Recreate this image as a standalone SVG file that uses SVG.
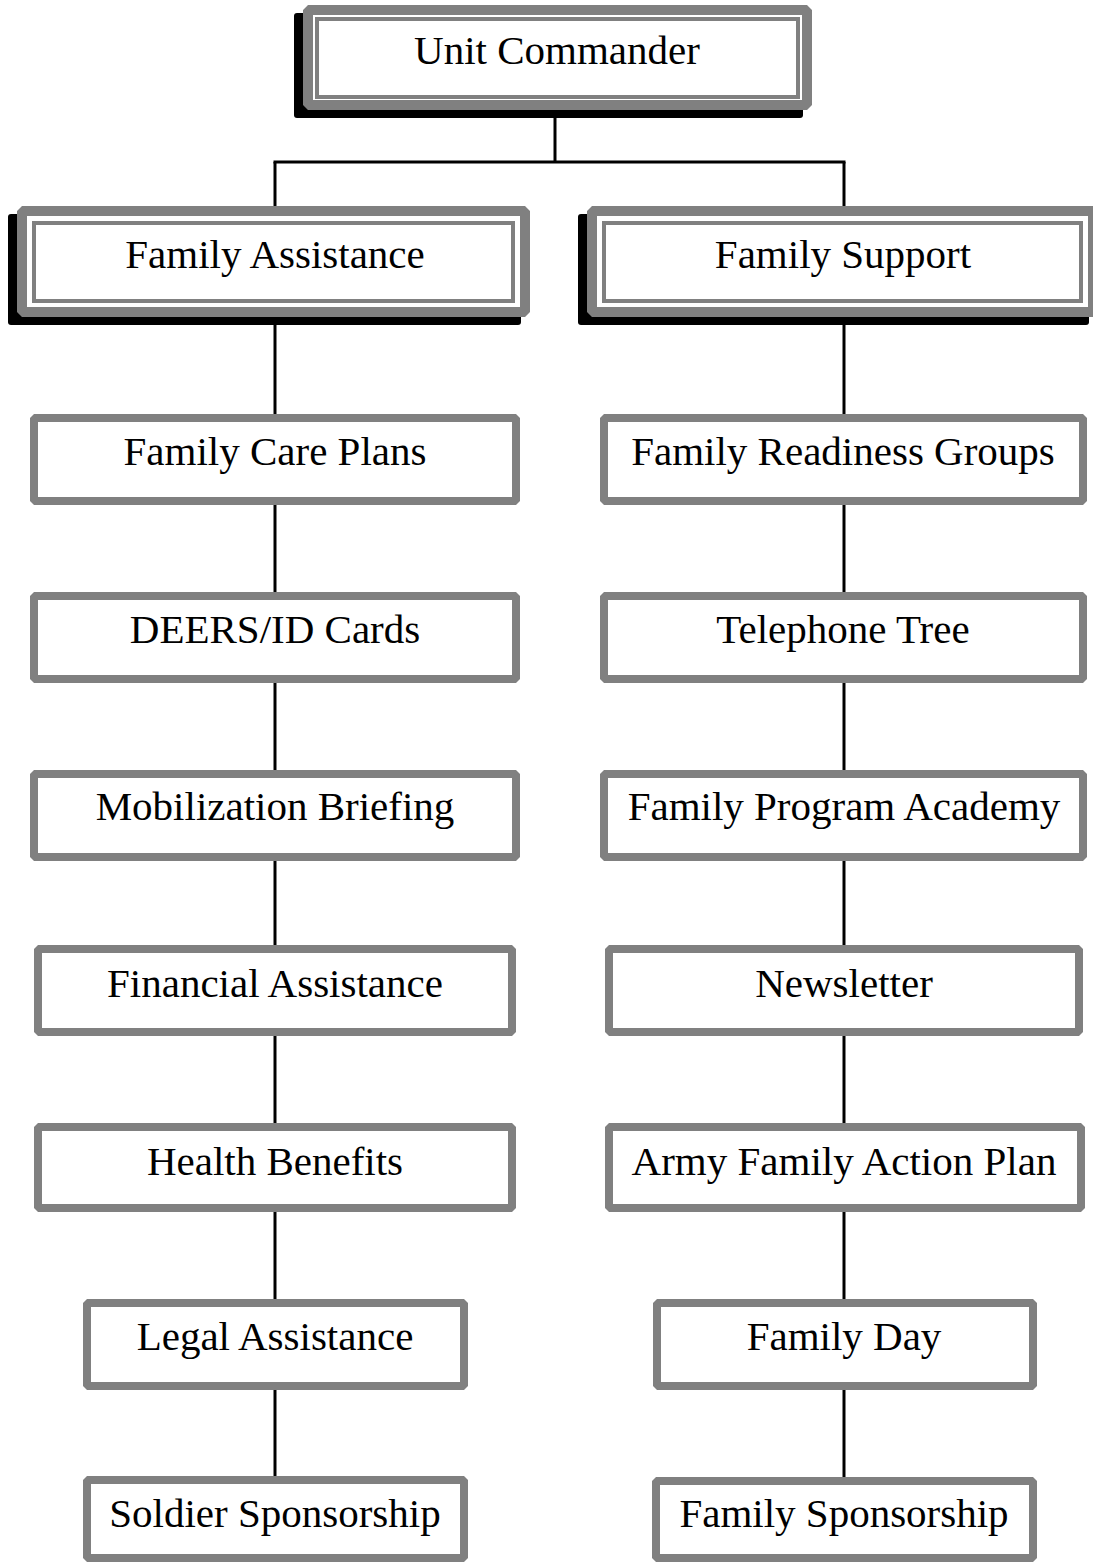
<svg xmlns="http://www.w3.org/2000/svg" width="1093" height="1562" viewBox="0 0 1093 1562">
<style>
.bg{fill:#ffffff}
.shadow{fill:#000000}
.outer{fill:#ffffff;stroke:#808080;stroke-width:10;stroke-linejoin:bevel}
.inner{fill:none;stroke:#808080;stroke-width:4}
.box{fill:#ffffff;stroke:#808080;stroke-width:8;stroke-linejoin:bevel}
.lbl{font-family:"Liberation Serif","Times New Roman",serif;font-size:41px;fill:#000000;text-anchor:middle}
.conn{stroke:#000000;stroke-width:3;fill:none}
</style>
<rect class="bg" x="0" y="0" width="1093" height="1562"/>
<g id="connectors">
<line class="conn" x1="555" y1="110" x2="555" y2="162"/>
<line class="conn" x1="273.5" y1="162" x2="845.5" y2="162"/>
<line class="conn" x1="275" y1="162" x2="275" y2="210"/>
<line class="conn" x1="844" y1="162" x2="844" y2="210"/>
<line class="conn" x1="275" y1="317" x2="275" y2="418"/>
<line class="conn" x1="275" y1="500" x2="275" y2="596"/>
<line class="conn" x1="275" y1="678" x2="275" y2="774"/>
<line class="conn" x1="275" y1="856" x2="275" y2="949"/>
<line class="conn" x1="275" y1="1031" x2="275" y2="1127"/>
<line class="conn" x1="275" y1="1207" x2="275" y2="1303"/>
<line class="conn" x1="275" y1="1385" x2="275" y2="1480"/>
<line class="conn" x1="844" y1="317" x2="844" y2="418"/>
<line class="conn" x1="844" y1="500" x2="844" y2="596"/>
<line class="conn" x1="844" y1="678" x2="844" y2="774"/>
<line class="conn" x1="844" y1="856" x2="844" y2="949"/>
<line class="conn" x1="844" y1="1031" x2="844" y2="1127"/>
<line class="conn" x1="844" y1="1207" x2="844" y2="1303"/>
<line class="conn" x1="844" y1="1385" x2="844" y2="1481"/>
</g>
<g id="unit-commander">
<rect class="shadow" x="294" y="13" width="509" height="105" rx="3"/>
<rect class="outer" x="308" y="10" width="499" height="95"/>
<rect class="inner" x="317" y="19" width="481" height="78"/>
<text class="lbl" x="557" y="64">Unit Commander</text>
</g>
<g id="family-assistance">
<rect class="shadow" x="8" y="214" width="513" height="111" rx="3"/>
<rect class="outer" x="22" y="211" width="503" height="101"/>
<rect class="inner" x="34" y="223" width="479" height="78"/>
<text class="lbl" x="275" y="268">Family Assistance</text>
</g>
<g id="family-support">
<rect class="shadow" x="578" y="214" width="511" height="111" rx="3"/>
<rect class="outer" x="592" y="211" width="501" height="101"/>
<rect class="inner" x="604" y="223" width="477" height="78"/>
<text class="lbl" x="843" y="268">Family Support</text>
</g>
<g id="family-care-plans">
<rect class="box" x="34" y="418" width="482" height="83"/>
<text class="lbl" x="275" y="465">Family Care Plans</text>
</g>
<g id="deers-id-cards">
<rect class="box" x="34" y="596" width="482" height="83"/>
<text class="lbl" x="275" y="643">DEERS/ID Cards</text>
</g>
<g id="mobilization-briefing">
<rect class="box" x="34" y="774" width="482" height="83"/>
<text class="lbl" x="275" y="820">Mobilization Briefing</text>
</g>
<g id="financial-assistance">
<rect class="box" x="38" y="949" width="474" height="83"/>
<text class="lbl" x="275" y="997">Financial Assistance</text>
</g>
<g id="health-benefits">
<rect class="box" x="38" y="1127" width="474" height="81"/>
<text class="lbl" x="275" y="1175">Health Benefits</text>
</g>
<g id="legal-assistance">
<rect class="box" x="87" y="1303" width="377" height="83"/>
<text class="lbl" x="275" y="1350">Legal Assistance</text>
</g>
<g id="soldier-sponsorship">
<rect class="box" x="87" y="1480" width="377" height="78"/>
<text class="lbl" x="275" y="1527">Soldier Sponsorship</text>
</g>
<g id="family-readiness-groups">
<rect class="box" x="604" y="418" width="479" height="83"/>
<text class="lbl" x="843" y="465">Family Readiness Groups</text>
</g>
<g id="telephone-tree">
<rect class="box" x="604" y="596" width="479" height="83"/>
<text class="lbl" x="843" y="643">Telephone Tree</text>
</g>
<g id="family-program-academy">
<rect class="box" x="604" y="774" width="479" height="83"/>
<text class="lbl" x="844" y="820">Family Program Academy</text>
</g>
<g id="newsletter">
<rect class="box" x="609" y="949" width="470" height="83"/>
<text class="lbl" x="844" y="997">Newsletter</text>
</g>
<g id="army-family-action-plan">
<rect class="box" x="609" y="1127" width="472" height="81"/>
<text class="lbl" x="844" y="1175">Army Family Action Plan</text>
</g>
<g id="family-day">
<rect class="box" x="657" y="1303" width="376" height="83"/>
<text class="lbl" x="844" y="1350">Family Day</text>
</g>
<g id="family-sponsorship">
<rect class="box" x="656" y="1481" width="377" height="77"/>
<text class="lbl" x="844" y="1527">Family Sponsorship</text>
</g>
</svg>
